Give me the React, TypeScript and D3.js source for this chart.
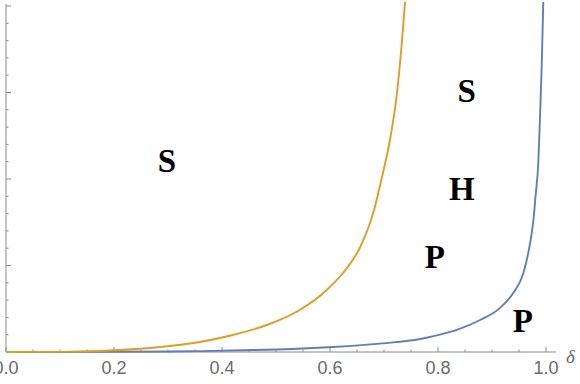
import React from "react";
import * as d3 from "d3";

// boundary curves
const deltaOrange = [0, 0.1, 0.174, 0.267, 0.359, 0.42, 0.483, 0.544, 0.594, 0.624, 0.656, 0.68, 0.698, 0.711, 0.724, 0.733, 0.739];
const orangeValues = [0, 0.002, 0.012, 0.046, 0.116, 0.197, 0.312, 0.486, 0.717, 0.913, 1.214, 1.607, 2.069, 2.451, 2.994, 3.572, 4.05];

const deltaBlue = [0, 0.2, 0.3, 0.36, 0.44, 0.53, 0.606, 0.698, 0.767, 0.79, 0.841, 0.878, 0.915, 0.939, 0.958, 0.967, 0.9735, 0.978, 0.98, 0.9858, 0.9889, 0.992, 0.995];
const blueValues = [0, 0.002, 0.005, 0.01, 0.02, 0.035, 0.058, 0.1, 0.15, 0.18, 0.27, 0.37, 0.51, 0.679, 0.91, 1.141, 1.372, 1.603, 1.757, 2.2, 2.72, 3.3, 4.05];

const xTicks = [0, 0.2, 0.4, 0.6, 0.8, 1.0];
const xTickLabels = ["0.0", "0.2", "0.4", "0.6", "0.8", "1.0"];
const yMajor = [0, 1, 2, 3, 4];

// region labels (text, delta, value at baseline)
const regionText = ["S", "S", "H", "P", "P"];
const regionDelta = [0.298, 0.853, 0.844, 0.794, 0.957];
const regionValue = [2.08, 2.89, 1.757, 0.971, 0.231];

const W = 580, H = 384;

export default function App() {
  const x = d3.scaleLinear().domain([0, 1]).range([6, 546]);
  const y = d3.scaleLinear().domain([0, 4]).range([352, 6]);

  const line = d3.line<[number, number]>()
    .x(d => x(d[0]))
    .y(d => y(d[1]))
    .curve(d3.curveMonotoneX);

  const orange = line(deltaOrange.map((d, i) => [d, orangeValues[i]] as [number, number])) || "";
  const blue = line(deltaBlue.map((d, i) => [d, blueValues[i]] as [number, number])) || "";

  const xMinor = d3.range(0, 1.0001, 0.05).filter(v => !xTicks.some(t => Math.abs(t - v) < 1e-6));
  const yMinor = d3.range(0, 4.0001, 0.2).filter(v => !yMajor.some(t => Math.abs(t - v) < 1e-6));

  const axisColor = "#8a8a8a";

  return (
    <svg width={W} height={H} style={{ position: "absolute", left: 0, top: 0, background: "#fff" }}>
      <defs>
        <clipPath id="plot">
          <rect x={0} y={2} width={W} height={H} />
        </clipPath>
      </defs>

      {/* axes */}
      <line x1={x(0)} x2={556} y1={y(0)} y2={y(0)} stroke={axisColor} strokeWidth={1} />
      <line x1={x(0)} x2={x(0)} y1={y(0)} y2={4} stroke={axisColor} strokeWidth={1} />
      {xTicks.map(t => (
        <line key={"xt" + t} x1={x(t)} x2={x(t)} y1={y(0)} y2={y(0) - 5} stroke={axisColor} />
      ))}
      {xMinor.map(t => (
        <line key={"xm" + t} x1={x(t)} x2={x(t)} y1={y(0)} y2={y(0) - 2.5} stroke={axisColor} />
      ))}
      {yMajor.map(t => (
        <line key={"yt" + t} x1={x(0)} x2={x(0) + 5} y1={y(t)} y2={y(t)} stroke={axisColor} />
      ))}
      {yMinor.map(t => (
        <line key={"ym" + t} x1={x(0)} x2={x(0) + 2.5} y1={y(t)} y2={y(t)} stroke={axisColor} />
      ))}
      {xTicks.map((t, i) => (
        <text key={"xl" + t} x={x(t)} y={374} textAnchor="middle"
          fontFamily="Liberation Sans, Arial, sans-serif" fontSize={18} fill="#6b6b6b">
          {xTickLabels[i]}
        </text>
      ))}
      <text x={566} y={363} fontFamily="Liberation Serif, serif" fontStyle="italic" fontSize={19} fill="#6b6b6b">δ</text>

      {/* curves */}
      <g clipPath="url(#plot)" fill="none" strokeWidth={1.9}>
        <path d={blue} stroke="#5E81B5" />
        <path d={orange} stroke="#E19C24" />
      </g>

      {/* region labels */}
      {regionText.map((s, i) => (
        <text key={"r" + i} x={x(regionDelta[i])} y={y(regionValue[i])} textAnchor="middle"
          fontFamily="Liberation Serif, Times New Roman, serif" fontWeight="bold" fontSize={33} fill="#000">
          {s}
        </text>
      ))}
    </svg>
  );
}
